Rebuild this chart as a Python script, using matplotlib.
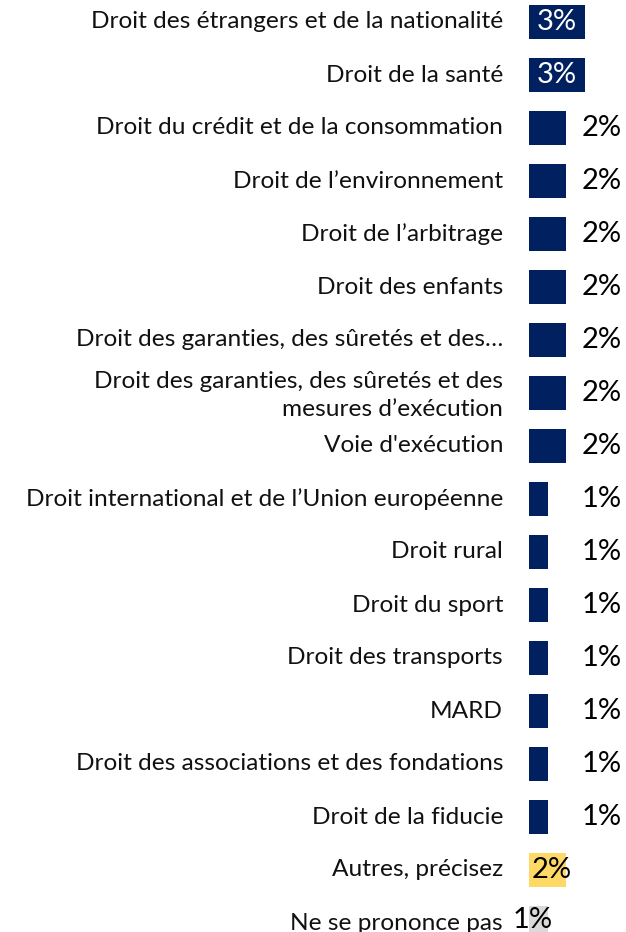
import matplotlib
matplotlib.use("Agg")
import matplotlib.pyplot as plt

categories = [
    "Droit des étrangers et de la nationalité",
    "Droit de la santé",
    "Droit du crédit et de la consommation",
    "Droit de l\u2019environnement",
    "Droit de l\u2019arbitrage",
    "Droit des enfants",
    "Droit des garanties, des sûretés et des\u2026",
    "Droit des garanties, des sûretés et des\nmesures d\u2019exécution",
    "Voie d'exécution",
    "Droit international et de l\u2019Union européenne",
    "Droit rural",
    "Droit du sport",
    "Droit des transports",
    "MARD",
    "Droit des associations et des fondations",
    "Droit de la fiducie",
    "Autres, précisez",
    "Ne se prononce pas",
]
values = [3, 3, 2, 2, 2, 2, 2, 2, 2, 1, 1, 1, 1, 1, 1, 1, 2, 1]
labels = ["3%", "3%", "2%", "2%", "2%", "2%", "2%", "2%", "2%",
          "1%", "1%", "1%", "1%", "1%", "1%", "1%", "2%", "1%"]

navy = "#002060"
colors = [navy] * 16 + ["#FFD966", "#D9D9D9"]

plt.rcParams['font.family'] = ['Lato', 'DejaVu Sans']

fig = plt.figure(figsize=(6.26, 9.32), dpi=100)
ax = fig.add_axes([0, 0, 1, 1])

# pixel scale: 18.5 px per 1 %, zero at x=529 px; rows 53 px apart, first at 22 px
px = 18.5
ax.set_xlim(-529 / px, (626 - 529) / px)
ax.set_ylim((932 - 22) / 53, -22 / 53)
ax.axis('off')

y = range(len(categories))
ax.barh(y, values, height=34 / 53, color=colors)

for i, (cat, v, lab) in enumerate(zip(categories, values, labels)):
    ax.text(-26 / px, i + (0.05 if "\n" in cat else 0), cat, ha='right', va='center',
            fontsize=17.6, color='#111111', linespacing=1.45)
    if i < 2:
        ax.text(v / 2, i, lab, ha='center', va='center', fontsize=21, color='white')
    elif i == 16:
        ax.text(v / 2 + 0.25, i, lab, ha='center', va='center', fontsize=21, color='black')
    elif i == 17:
        ax.text(4 / px, i - 0.06, lab, ha='center', va='center', fontsize=21, color='black')
    else:
        ax.text(93 / px, i, lab, ha='right', va='center', fontsize=21, color='black')

fig.savefig("out.png", dpi=100)
